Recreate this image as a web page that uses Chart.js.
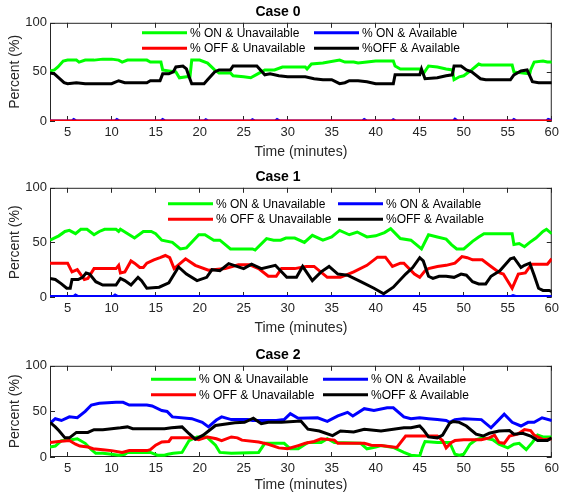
<!DOCTYPE html>
<html>
<head>
<meta charset="utf-8">
<script src="https://cdn.jsdelivr.net/npm/chart.js@4.4.0/dist/chart.umd.min.js"></script>
<style>
  body { margin: 0; background: #fff; overflow: hidden; width: 563px; height: 498px; position: relative; }
  canvas { position: absolute; left: 0; }
</style>
</head>
<body>
<canvas id="case0" width="563" height="165" style="top:0px"></canvas>
<canvas id="case1" width="563" height="176" style="top:165px"></canvas>
<canvas id="case2" width="563" height="155" style="top:343px"></canvas>
<script>
// ---- data (time in minutes, percent) ----
const seriesLabels = ['% ON & Unavailable', '% ON & Available', '% OFF & Unavailable', '%OFF & Available'];
const seriesColors = ['#00ff00', '#0000ff', '#ff0000', '#000000'];
const xTicks = [5, 10, 15, 20, 25, 30, 35, 40, 45, 50, 55, 60];
const yTicks = [0, 50, 100];

// Case 0
const case0OnUnavail = [[3,51],[3.5,52],[3.9,55],[4.5,61],[5,62],[6,62],[6.3,60],[7,62],[8,62],[9,63],[10,63],[10.8,62],[11.2,60],[11.8,62],[13,62],[14,62],[14.4,60],[15.6,60],[15.8,52],[16.5,51],[17.3,50],[17.7,44],[18.5,45],[18.9,45],[19.1,62],[20,62],[20.9,59],[21.7,52],[22.2,49],[23.5,49],[23.8,46],[25,45],[25.8,44],[26.6,48],[27.4,52],[28.5,52],[29.4,55],[32,55],[32.2,53],[32.7,58],[34,59],[35.9,62],[36.5,60],[37.5,60],[38,59],[39,60],[40,61],[42,61],[42.2,56],[42.8,53],[45,53],[45.4,48],[46,56],[47,55],[48,53],[48.7,52],[48.9,42],[49.5,45],[50,46],[50.9,52],[51.7,58],[52,57],[55.5,57],[55.7,50],[56.5,49],[57.5,48],[57.6,52],[58,60],[59,61],[59.5,60],[60,60]];
const case0OnAvail = [[3,0],[5.5,0],[5.7,1.5],[6,0],[10.4,0],[10.6,1.5],[10.9,0],[15.6,0],[15.8,1.5],[16.1,0],[20.5,0],[20.7,1.2],[21,0],[25.8,0],[26,1.2],[26.3,0],[28.6,0],[28.8,1.5],[29.1,0],[38.5,0],[38.7,1.5],[39,0],[41.8,0],[42,1.2],[42.3,0],[48.8,0],[49,1.8],[49.3,0],[55.5,0],[55.7,1.5],[56,0],[59.4,0],[59.6,1.5],[60,0.5]];
const case0OffUnavail = [[3,0],[60,0]];
const case0OffAvail = [[3,49],[3.5,48],[4,44],[4.6,39],[5,38],[6,39],[7,38],[8,38],[10,38],[10.8,41],[11.5,39],[12,39],[14,39],[14.4,41],[15.5,41],[15.8,48],[16.5,48],[17,50],[17.3,55],[18.1,56],[18.5,53],[18.8,45],[19.1,38],[20.5,38],[20.9,42],[21.7,50],[22.2,52],[23.5,52],[23.8,56],[26.5,56],[27.4,47],[28,48],[29,46],[30,45],[32,45],[33,43],[34,42],[35,42],[35.9,38],[36.5,39],[37,41],[38,41],[39,40],[40,38],[42,38],[42.2,47],[45,47],[45.2,53],[45.6,43],[47,44],[48,46],[48.7,47],[48.9,56],[49.7,56],[50.3,52],[50.9,50],[51.9,43],[52.5,42],[55.3,42],[55.7,47],[56.5,51],[57.2,52],[57.8,40],[58.5,39],[60,39]];

// Case 1
const case1OnUnavail = [[3,52],[4,56],[4.7,60],[5.2,61],[5.9,58],[6.5,62],[7.2,62],[8,57],[8.6,60],[9.2,62],[10.5,62],[10.8,60],[11,62],[11.6,59],[12.6,54],[13.6,60],[14.5,60],[15,58],[15.7,52],[16.9,50],[17.8,44],[18.5,45],[19.9,57],[20.6,57],[21.6,52],[22.3,52],[23.5,44],[26,44],[26.3,43],[27.6,53.5],[28.4,52],[29.2,52],[29.8,54],[30.8,54],[31.9,50],[32.8,56.5],[34,52],[35,55],[35.9,61],[37,57],[37.9,59.5],[39,55],[40,56],[41,59],[41.7,62.5],[42.8,53.5],[44,52],[45.2,44],[46,57],[47,55],[48,53],[48.6,48],[49.2,44],[50,44],[51,51],[51.7,55],[52.3,58],[55.5,58],[55.7,48],[56.3,49],[56.9,46],[57.5,50],[58.2,54],[59,60],[59.4,62],[60,58]];
const case1OnAvail = [[3,0.5],[5.7,0.5],[5.9,1.8],[6.2,0.5],[10.2,0.5],[10.4,1.8],[10.7,0.5],[55.4,0.5],[55.6,1.2],[55.9,0.5],[60,0.5]];
const case1OffUnavail = [[3,31],[5,31],[5.5,23],[6.1,25],[6.9,16],[7.3,17],[8,26],[10.5,26],[10.8,29],[11,22],[11.5,23],[12.2,33],[12.6,31],[13.2,27],[13.6,27],[14,31],[14.8,34],[15.5,36],[16.1,38],[16.6,36],[17.1,26],[18.4,35],[19.5,29],[21,24.5],[22.9,26],[24.4,29.5],[25.7,29.5],[26.7,26],[27.8,19],[28.7,19],[29.3,26],[30.8,26],[32.1,28],[33,28],[34.5,18],[36,18],[37.5,23],[39,29],[40.2,36.5],[41.1,36.5],[41.9,28],[42.8,31],[43.2,31],[44.4,21],[45,18],[45.6,24],[46,26],[47,28],[48,29],[49,31],[49.8,37],[50.4,36],[51,34],[52.1,34],[53.1,28],[54.1,22],[54.5,21],[55.5,8],[56.2,21],[57,22],[57.7,30],[59.5,30],[60,35]];
const case1OffAvail = [[3,17],[3.6,16],[4.3,12],[4.9,8],[5.3,8],[5.5,16],[6.2,16],[6.7,18],[7.1,22],[7.5,21],[8.2,14],[9,11],[10.5,11],[11,17],[11.5,15],[12.2,11],[13,18],[13.4,15],[14,8],[15.4,9],[16.5,13],[17.6,27.5],[18.5,21],[19.7,15],[20.8,18],[21.4,25],[22.3,24],[23.3,30.5],[25,26],[25.9,30],[27,26],[28.6,29],[29.9,18],[31,18],[31.7,28],[32.8,15],[33.8,23],[34.7,28],[35.7,21],[36.8,20],[38.3,14],[39.8,8],[40.9,3],[42,9],[43.4,21],[44.2,27],[45,36],[45.4,33],[46,19],[46.5,17],[47.2,19],[48,19],[48.9,18],[49.7,21],[50.3,20],[51,14],[51.7,12],[52.5,12],[53.1,19],[54.1,24],[55.3,35],[55.7,36],[56.5,27],[56.9,29],[57.5,31],[58,20],[58.5,8],[59,6],[59.7,6],[60,5]];

// Case 2
const case2OnUnavail = [[3,11],[3.6,12],[4.3,18],[5.4,19],[6.1,20],[7,15],[7.7,8],[8.2,4],[9,4],[10,3],[10.8,2],[11.5,3],[11.8,5],[14.4,5],[15.2,2],[16,2],[16.4,3],[17,4],[18,5],[18.8,18],[19.7,22],[20.8,22],[21.8,13],[22.3,5],[23.6,4],[26.7,5],[27.4,15],[29.6,15],[30.3,9],[31.2,9],[32.3,16],[33.8,16],[34.5,20],[35.3,16],[38.3,15],[39,9],[40,11],[40.6,12.5],[42,10.5],[43.2,5],[44,2],[45,1],[45.3,10],[45.6,17],[47,16],[48.4,16],[49,3],[49.5,2],[50,3],[50.7,14],[51.4,19],[52.2,21],[53.3,19],[54,14],[55,10],[55.7,14],[56.3,15],[57.1,8],[57.8,16],[58.4,24],[59,22],[60,22]];
const case2OnAvail = [[3,37],[3.6,42],[4.3,40],[5.2,44],[6.1,43],[7,50],[7.7,57],[8.6,59],[10.5,60],[11.3,60],[12,57],[14,57],[14.6,56],[15.7,51],[16.3,50],[16.9,44],[19.1,42],[20.3,38],[21,33],[21.9,40.5],[22.5,44],[23.6,41],[25.5,41],[26,40],[28.7,40],[29.6,41],[30.3,47.5],[31.2,42.5],[33.4,43],[34.5,39],[35.7,45],[36.8,49],[37.4,45],[38.7,53],[39.8,51],[41.3,54],[42,54],[43.2,44],[44,42],[45,43],[46,42],[47,41],[48,40],[48.4,38],[49,41],[50,42],[52,41],[53.1,32],[54.6,47],[55.5,38],[56.5,34],[57.3,38],[58,38],[58.9,43],[60,40]];
const case2OffUnavail = [[3,16],[4,17],[5.2,18],[5.9,14],[6.4,12],[7.3,11],[7.9,9],[9,8],[10,7],[11.2,5],[12,7],[14,7],[14.4,8],[15,13],[15.7,16.5],[16.5,17],[16.8,21],[17.2,21],[19,21],[19.9,19],[20.9,22],[21.9,20],[22.5,18],[23.6,22],[24.3,21],[24.8,18.5],[26.7,16.5],[27.8,14],[29,10],[30,9],[31.2,12.5],[32,15],[33,17],[33.8,20],[35.3,18.5],[35.7,15],[36.8,15],[38.7,15],[39.5,13],[40.6,12.5],[42.4,10.5],[43.4,23],[47,23],[47.6,18],[48,10],[48.6,16],[49,18],[50,19],[52,19],[52.9,21],[53.5,24],[54,16],[54.6,15],[55.2,23],[56.1,25],[56.9,30],[57.6,29],[58,24],[59,19],[60,20]];
const case2OffAvail = [[3,38],[3.6,33],[4,29],[4.7,21],[5.2,21],[6,27],[7.3,27],[8,30],[9,30],[10,31],[11,32],[11.8,33],[12.4,31],[16,31],[16.8,32],[18,33],[18.8,25.5],[19.5,19.5],[20.4,24],[21.8,34.5],[24,37.5],[25.1,38],[26.1,42.5],[27,36.5],[27.8,38],[29.3,38],[31.5,39.5],[32.3,30.5],[33.6,28.5],[35.1,23.5],[36,28.5],[37.5,27.5],[38.7,30.5],[40.6,28.5],[43.2,32],[44,32],[45,34],[45.4,30],[46,22],[47,21],[47.6,24],[48.4,37],[48.8,39],[49.5,38],[50.3,34],[51.4,25],[52.2,23],[52.9,26],[54,28.5],[55.2,29],[55.7,25],[56.7,26],[57.6,23],[58.4,18],[59.5,18],[60,21]];

// ---- drawing ----
const FONT = "'Liberation Sans', Arial, Helvetica, sans-serif";
const AXIS_COLOR = '#262626';

// MATLAB-style box with inward ticks, drawn under the data
const boxTicks = {
    id: 'boxTicks',
    beforeDatasetsDraw(chart) {
        const { ctx, chartArea: a, scales: { x, y } } = chart;
        const len = 5;
        ctx.save();
        ctx.strokeStyle = AXIS_COLOR;
        ctx.lineWidth = 1;
        ctx.strokeRect(a.left + 0.5, a.top + 0.5, a.width - 1, a.height - 1);
        ctx.beginPath();
        xTicks.forEach(v => {
            const px = Math.round(x.getPixelForValue(v)) - 0.5;
            ctx.moveTo(px, a.top); ctx.lineTo(px, a.top + len);
            ctx.moveTo(px, a.bottom); ctx.lineTo(px, a.bottom - len);
        });
        yTicks.forEach(v => {
            const py = Math.round(y.getPixelForValue(v)) + 0.5;
            ctx.moveTo(a.left, py); ctx.lineTo(a.left + len, py);
            ctx.moveTo(a.right, py); ctx.lineTo(a.right - len, py);
        });
        ctx.stroke();
        ctx.restore();
    }
};

// two-column legend inside the axes, no frame
const gridLegend = {
    id: 'gridLegend',
    afterDatasetsDraw(chart, args, opts) {
        const { ctx, chartArea: a } = chart;
        ctx.save();
        ctx.font = '12px ' + FONT;
        ctx.textBaseline = 'middle';
        chart.data.datasets.forEach((ds, i) => {
            const col = i % 2, row = Math.floor(i / 2);
            const x0 = a.left + opts.left + col * opts.colGap;
            const y0 = a.top + opts.top + row * opts.rowGap;
            ctx.strokeStyle = ds.borderColor;
            ctx.lineWidth = 3;
            ctx.beginPath();
            ctx.moveTo(x0, y0); ctx.lineTo(x0 + 45, y0);
            ctx.stroke();
            ctx.fillStyle = '#000';
            ctx.fillText(ds.label, x0 + 48, y0 + 0.5);
        });
        ctx.restore();
    }
};

function makeCase(id, title, series, xAxisHeight, legendPos) {
    const ctx = document.getElementById(id).getContext('2d');
    const drawOrder = [4, 3, 2, 1];
    return new Chart(ctx, {
        type: 'line',
        data: {
            datasets: series.map((pts, i) => ({
                label: seriesLabels[i],
                data: pts.map(([t, v]) => ({ x: t, y: v })),
                borderColor: seriesColors[i],
                backgroundColor: seriesColors[i],
                borderWidth: 3,
                pointRadius: 0,
                tension: 0,
                fill: false,
                order: drawOrder[i]
            }))
        },
        options: {
            responsive: false,
            animation: false,
            layout: { padding: { left: 0, right: 7, top: 0, bottom: 0 } },
            plugins: {
                legend: { display: false },
                tooltip: { enabled: false },
                title: {
                    display: true,
                    text: title,
                    color: '#000',
                    font: { family: FONT, size: 14, weight: 'bold' },
                    padding: { top: 4, bottom: 2 }
                },
                gridLegend: legendPos
            },
            scales: {
                x: {
                    type: 'linear',
                    min: 3,
                    max: 60,
                    grid: { display: false, drawTicks: false },
                    border: { display: false },
                    afterBuildTicks: s => { s.ticks = xTicks.map(v => ({ value: v })); },
                    afterFit: s => { s.height = xAxisHeight; },
                    ticks: { color: AXIS_COLOR, font: { family: FONT, size: 13 }, padding: 4, maxRotation: 0 },
                    title: {
                        display: true,
                        text: 'Time (minutes)',
                        color: AXIS_COLOR,
                        font: { family: FONT, size: 14 },
                        padding: { top: 0, bottom: 4 }
                    }
                },
                y: {
                    min: 0,
                    max: 100,
                    grid: { display: false, drawTicks: false },
                    border: { display: false },
                    afterBuildTicks: s => { s.ticks = yTicks.map(v => ({ value: v })); },
                    afterFit: s => { s.width = 50; },
                    ticks: { color: AXIS_COLOR, font: { family: FONT, size: 13 }, padding: 3 },
                    title: {
                        display: true,
                        text: 'Percent (%)',
                        color: AXIS_COLOR,
                        font: { family: FONT, size: 14 },
                        padding: { top: 7, bottom: 0 }
                    }
                }
            }
        },
        plugins: [boxTicks, gridLegend]
    });
}

makeCase('case0', 'Case 0', [case0OnUnavail, case0OnAvail, case0OffUnavail, case0OffAvail], 44,
    { left: 92, top: 10, rowGap: 15.5, colGap: 172 });
makeCase('case1', 'Case 1', [case1OnUnavail, case1OnAvail, case1OffUnavail, case1OffAvail], 44,
    { left: 118, top: 16, rowGap: 15.5, colGap: 170 });
makeCase('case2', 'Case 2', [case2OnUnavail, case2OnAvail, case2OffUnavail, case2OffAvail], 41,
    { left: 101, top: 13.5, rowGap: 15.5, colGap: 172 });
</script>
</body>
</html>
